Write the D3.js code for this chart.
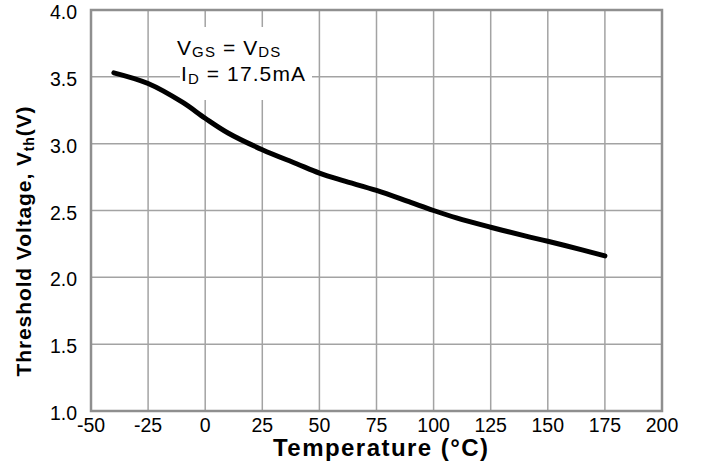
<!DOCTYPE html>
<html>
<head>
<meta charset="utf-8">
<script src="https://cdn.jsdelivr.net/npm/d3@7"></script>
<style>
    body { margin: 0; background: #fff; }
    svg { display: block; }
</style>
</head>
<body>
<div class="chart"></div>
<script>
// values
const temps = [-40, -25, -10, 0, 10, 25, 40, 50, 60, 75, 90, 100, 110, 125, 140, 150, 165, 175];
const vth = [3.53, 3.45, 3.31, 3.19, 3.08, 2.955, 2.85, 2.78, 2.725, 2.65, 2.56, 2.50, 2.445, 2.375, 2.31, 2.27, 2.205, 2.16];
const xTicks = [-50, -25, 0, 25, 50, 75, 100, 125, 150, 175, 200];
const yTicks = [1.0, 1.5, 2.0, 2.5, 3.0, 3.5, 4.0];

const width = 701, height = 464;
const margin = {top: 10, right: 39, bottom: 53, left: 91};
const font = "'Liberation Sans', Arial, sans-serif";

const svg = d3.select(".chart")
    .append("svg")
    .attr("width", width)
    .attr("height", height)
    .attr("font-family", font);

const x = d3.scaleLinear().domain([-50, 200]).range([margin.left, width - margin.right]);
const y = d3.scaleLinear().domain([1, 4]).range([height - margin.bottom, margin.top]);

// grid
svg.append("g")
    .selectAll("line")
    .data(xTicks.slice(1, -1))
    .join("line")
    .attr("x1", d => x(d)).attr("x2", d => x(d))
    .attr("y1", y(4)).attr("y2", y(1))
    .attr("stroke", "#a3a3a3")
    .attr("stroke-width", 1.5);

svg.append("g")
    .selectAll("line")
    .data(yTicks.slice(1, -1))
    .join("line")
    .attr("x1", x(-50)).attr("x2", x(200))
    .attr("y1", d => y(d)).attr("y2", d => y(d))
    .attr("stroke", "#a3a3a3")
    .attr("stroke-width", 1.5);

// frame
svg.append("rect")
    .attr("x", x(-50))
    .attr("y", y(4))
    .attr("width", x(200) - x(-50))
    .attr("height", y(1) - y(4))
    .attr("fill", "none")
    .attr("stroke", "#8f8f8f")
    .attr("stroke-width", 2.5);

// tick labels
svg.append("g")
    .attr("font-size", 19.5)
    .attr("text-anchor", "middle")
    .selectAll("text")
    .data(xTicks)
    .join("text")
    .attr("x", d => x(d))
    .attr("y", y(1) + 21)
    .text(d => d);

svg.append("g")
    .attr("font-size", 19.5)
    .attr("text-anchor", "end")
    .selectAll("text")
    .data(yTicks)
    .join("text")
    .attr("x", x(-50) - 14)
    .attr("y", d => y(d) + 9)
    .text(d => d.toFixed(1));

// note box covering the grid
svg.append("rect")
    .attr("x", 180).attr("y", 27)
    .attr("width", 132).attr("height", 73)
    .attr("fill", "#fff");

const note = svg.append("g")
    .attr("font-size", 21)
    .attr("letter-spacing", 1.1);

const l1 = note.append("text").attr("x", 177).attr("y", 55);
l1.append("tspan").text("V");
l1.append("tspan").attr("font-size", 15).attr("dy", 2).text("GS");
l1.append("tspan").attr("dy", -2).text(" = V");
l1.append("tspan").attr("font-size", 15).attr("dy", 2).text("DS");

const l2 = note.append("text").attr("x", 181).attr("y", 81);
l2.append("tspan").text("I");
l2.append("tspan").attr("font-size", 15).attr("dy", 3).text("D");
l2.append("tspan").attr("dy", -3).text(" = 17.5mA");

// curve
const data = temps.map((t, i) => ({t: t, v: vth[i]}));

svg.append("path")
    .datum(data)
    .attr("fill", "none")
    .attr("stroke", "#000")
    .attr("stroke-width", 5)
    .attr("stroke-linecap", "round")
    .attr("stroke-linejoin", "round")
    .attr("d", d3.line()
        .x(d => x(d.t))
        .y(d => y(d.v))
        .curve(d3.curveCatmullRom));

// axis titles
svg.append("text")
    .attr("x", (x(-50) + x(200)) / 2 + 4)
    .attr("y", 456)
    .attr("text-anchor", "middle")
    .attr("font-size", 24)
    .attr("font-weight", "bold")
    .attr("textLength", 215)
    .attr("lengthAdjust", "spacing")
    .text("Temperature (°C)");

const yt = svg.append("text")
    .attr("transform", `translate(31,${241}) rotate(-90)`)
    .attr("text-anchor", "middle")
    .attr("font-size", 21)
    .attr("font-weight", "bold")
    .attr("letter-spacing", 0.9);
yt.append("tspan").text("Threshold Voltage, V");
yt.append("tspan").attr("font-size", 14).attr("dy", 3).text("th");
yt.append("tspan").attr("dy", -3).text("(V)");
</script>
</body>
</html>
